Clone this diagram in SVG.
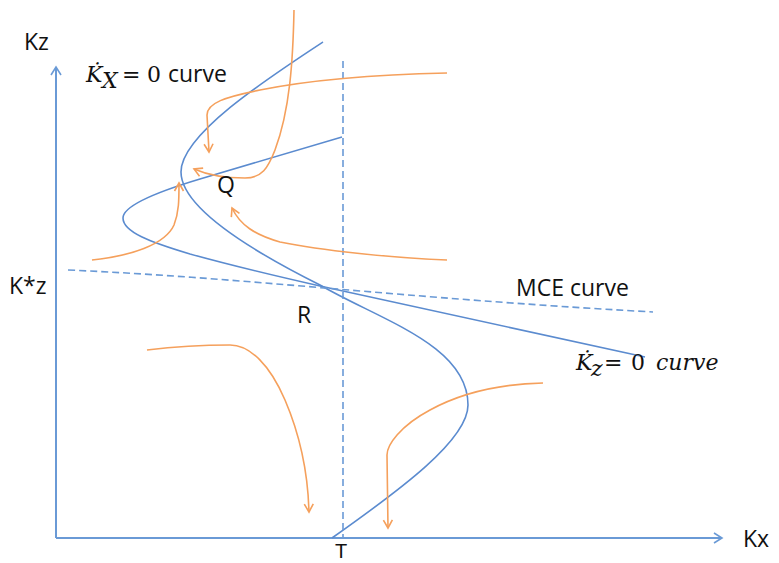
<svg xmlns="http://www.w3.org/2000/svg" width="779" height="563" viewBox="0 0 779 563">
<defs>
<style>
.ax{fill:none;stroke:#6a9ad6;stroke-width:2}
.bl{fill:none;stroke:#5b8bcf;stroke-width:1.6}
.ds{fill:none;stroke:#6a9ad6;stroke-width:1.6;stroke-dasharray:7,4}
.or{fill:none;stroke:#f5a05c;stroke-width:1.6}
.lb{font-family:"Open Sans","Liberation Sans",sans-serif;font-size:23px;fill:#111}
.tl{font-family:"Liberation Sans",sans-serif;font-size:20px;fill:#111}
.mt{font-family:"DejaVu Serif","Liberation Serif",serif;font-style:italic;font-size:22px;fill:#111}
.mn{font-family:"DejaVu Serif","Liberation Serif",serif;font-size:22px;fill:#111}
</style>
<marker id="oa" viewBox="-10 -6 12 12" refX="0" refY="0" markerWidth="12" markerHeight="12" markerUnits="userSpaceOnUse" orient="auto">
<path d="M-8,-4.5 L0,0 L-8,4.5" fill="none" stroke="#f5a05c" stroke-width="1.6"/>
</marker>
<marker id="ba" viewBox="-10 -6 12 12" refX="0" refY="0" markerWidth="12" markerHeight="12" markerUnits="userSpaceOnUse" orient="auto">
<path d="M-8,-5 L0,0 L-8,5" fill="none" stroke="#6a9ad6" stroke-width="1.6"/>
</marker>
</defs>
<rect width="779" height="563" fill="#fff"/>
<g id="axes">
<path class="ax" d="M56,538 L56,67" marker-end="url(#ba)"/>
<path class="ax" d="M56,538 L722,538" marker-end="url(#ba)"/>
</g>
<g id="connectors">
<path id="kx-curve" class="bl" d="M323,42 C265,80 181,135 181,172 C181,205 240,245 320,285 C380,320 468,345 468,405 C468,440 400,490 332,538"/>
<path id="kz-curve" class="bl" d="M342,137 L200,179 C150,194 123,207 123,218 C123,232 150,242 190,254 C230,265 280,277 320,286 L645,357"/>
<path id="mce" class="ds" d="M68,270 C250,278 400,298 653,312"/>
<path id="vline" class="ds" d="M343,61 L343,538"/>
<path class="or" d="M294,10 C293,60 290,110 275,150 C268,168 262,178 245,178 C225,178 210,176 194,169" marker-end="url(#oa)"/>
<path class="or" d="M447,73 C400,74 320,78 260,90 C225,97 207,103 207,115 L209,152" marker-end="url(#oa)"/>
<path class="or" d="M92,260 C130,256 165,245 174,225 C179,212 179,200 179,183" marker-end="url(#oa)"/>
<path class="or" d="M447,260 C390,258 320,250 280,242 C255,235 240,225 232,208" marker-end="url(#oa)"/>
<path class="or" d="M147,350 C180,346 210,345 230,345 C250,345 270,365 285,400 C300,435 308,475 309,512" marker-end="url(#oa)"/>
<path class="or" d="M543,383 C500,384 463,392 430,410 C400,426 387,445 387,455 L388,528" marker-end="url(#oa)"/>
</g>
<g id="labels">
<text class="lb" x="24" y="50" font-size="24">Kz</text>
<text class="lb" x="9" y="294" font-size="24">K*z</text>
<text class="lb" x="743" y="547" font-size="24">Kx</text>
<text class="tl" x="335" y="558">T</text>
<text class="lb" x="297" y="323">R</text>
<text class="lb" x="217" y="193">Q</text>
<text class="lb" x="516" y="296">MCE curve</text>
<g id="kx-label">
<text class="mt" x="86" y="82">K&#x307;</text>
<text class="mt" x="102" y="88" font-size="14">X</text>
<text class="mn" x="122" y="82">=</text>
<text class="mn" x="147" y="82">0</text>
<text class="lb" x="168" y="82">curve</text>
</g>
<g id="kz-label">
<text class="mt" x="576" y="370">K&#x307;</text>
<text class="mt" x="591" y="376" font-size="14">z</text>
<text class="mn" x="604" y="370">=</text>
<text class="mn" x="631" y="370">0</text>
<text class="mt" x="656" y="370">curve</text>
</g>
</g>
</svg>
